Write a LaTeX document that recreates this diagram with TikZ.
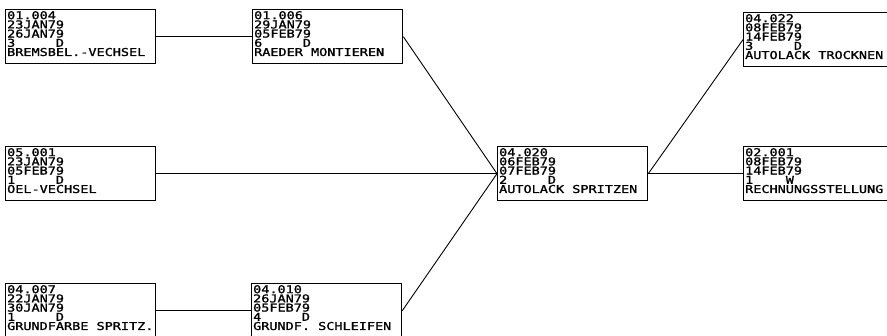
\documentclass[tikz,border=0pt]{standalone}
\usepackage{fontspec}
\newfontfamily\plotter[FakeStretch=1.25,FakeBold=1.4]{DejaVu Sans Mono}
\usetikzlibrary{calc}
\tikzset{
    job/.style={draw, line width=1.1pt, inner sep=1.6pt, anchor=north west, font=\plotter},
    link/.style={line width=0.9pt}
}
% five lines of one job: number, start, end, duration, name
\newcommand{\jobtext}[5]{%
    \parbox[t][51pt][t]{147pt}{\fontsize{10.8pt}{9.2pt}\selectfont #1\\#2\\#3\\#4\\#5}}

\begin{document}
\begin{tikzpicture}[x=1pt, y=1pt]
    \useasboundingbox (0,0) rectangle (887,-335);
    \clip (0,0) rectangle (887,-335);
    \fill[white] (0,0) rectangle (887,-335);
    % left column
    \node[job] (a1) at (5,-9) {\jobtext{01.004}{23JAN79}{26JAN79}{3\phantom{00000}D}{BREMSBEL.-VECHSEL}};
    \node[job] (a2) at (5,-146) {\jobtext{05.001}{23JAN79}{05FEB79}{1\phantom{00000}D}{OEL-VECHSEL}};
    \node[job] (a3) at (5,-283) {\jobtext{04.007}{22JAN79}{30JAN79}{1\phantom{00000}D}{GRUNDFARBE SPRITZ.}};
    % second column
    \node[job] (b1) at (252,-9) {\jobtext{01.006}{29JAN79}{05FEB79}{6\phantom{00000}D}{RAEDER MONTIEREN}};
    \node[job] (b3) at (251,-283) {\jobtext{04.010}{26JAN79}{05FEB79}{4\phantom{00000}D}{GRUNDF. SCHLEIFEN}};
    % middle
    \node[job] (c2) at (497,-146) {\jobtext{04.020}{06FEB79}{07FEB79}{2\phantom{00000}D}{AUTOLACK SPRITZEN}};
    % right column
    \node[job] (d1) at (743,-12) {\jobtext{04.022}{08FEB79}{14FEB79}{3\phantom{00000}D}{AUTOLACK TROCKNEN}};
    \node[job] (d2) at (743,-146) {\jobtext{02.001}{08FEB79}{14FEB79}{1\phantom{0000}W}{RECHNUNGSSTELLUNG}};
    % links
    \draw[link] (a1.east) -- (b1.west);
    \draw[link] (a3.east) -- (b3.west);
    \draw[link] (b1.east) -- (c2.west);
    \draw[link] (a2.east) -- (c2.west);
    \draw[link] (b3.east) -- (c2.west);
    \draw[link] (c2.east) -- (d1.west);
    \draw[link] (c2.east) -- (d2.west);
\end{tikzpicture}
\end{document}
